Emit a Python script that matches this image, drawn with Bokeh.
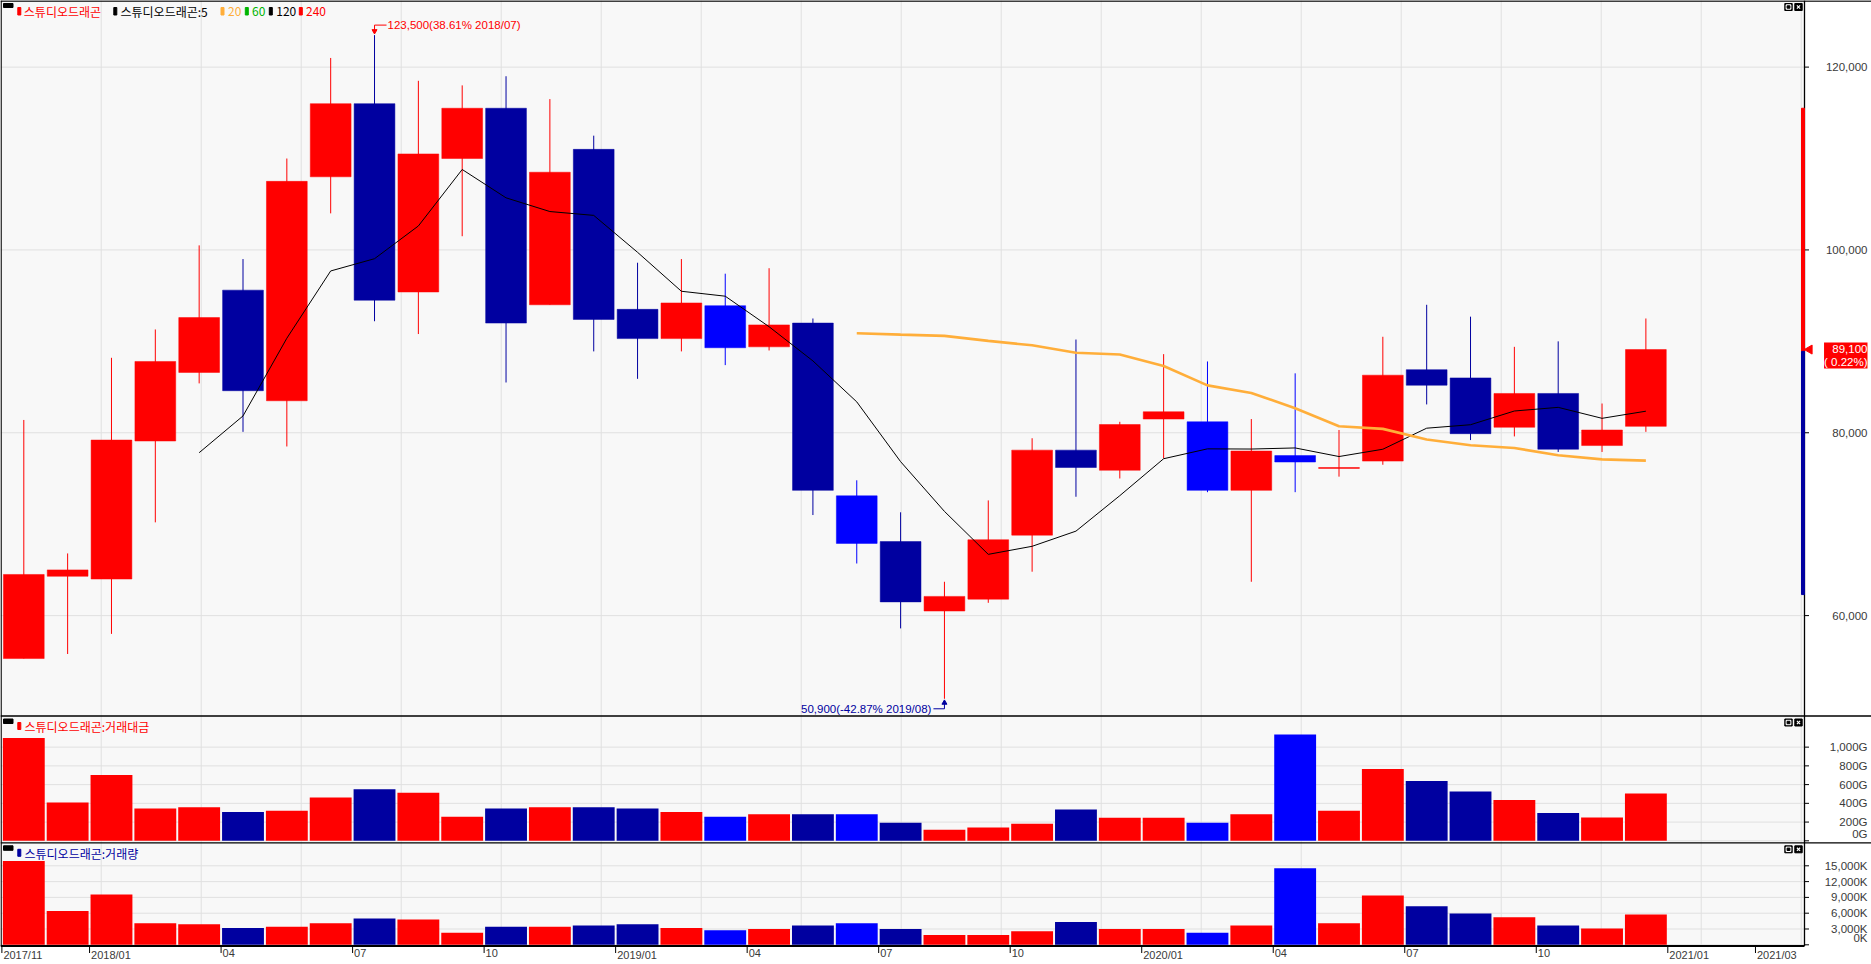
import math
from bokeh.plotting import figure
from bokeh.models import Range1d, Label
from bokeh.embed import file_html
from bokeh.resources import INLINE

# ---------------- data ----------------
months = ["2017/11", "2017/12",
          "2018/01", "2018/02", "2018/03", "2018/04", "2018/05", "2018/06",
          "2018/07", "2018/08", "2018/09", "2018/10", "2018/11", "2018/12",
          "2019/01", "2019/02", "2019/03", "2019/04", "2019/05", "2019/06",
          "2019/07", "2019/08", "2019/09", "2019/10", "2019/11", "2019/12",
          "2020/01", "2020/02", "2020/03", "2020/04", "2020/05", "2020/06",
          "2020/07", "2020/08", "2020/09", "2020/10", "2020/11", "2020/12"]
opens = [55300, 64300, 64000, 79100, 86600, 95600, 83500, 108000, 116000, 95400,
         110000, 115500, 94000, 111000, 93500, 90300, 93900, 89400, 92000, 73100,
         68100, 60500, 61800, 68800, 78100, 75900, 81500, 81200, 73700, 77500,
         76100, 76900, 86900, 86000, 80600, 84300, 78600, 80700]
highs = [81400, 66800, 88200, 91300, 100500, 99000, 110000, 121000, 123500, 118500,
         118000, 119000, 116500, 112500, 98600, 99000, 97400, 98000, 92500, 74800,
         71300, 63700, 72600, 79400, 90200, 81200, 88600, 87800, 81500, 86500,
         80300, 90500, 94000, 92700, 89400, 90000, 83200, 92500]
lows = [55300, 55800, 58000, 70200, 85400, 80100, 78500, 104000, 92200, 90800,
        101500, 85500, 94000, 88900, 85900, 88900, 87400, 89000, 71000, 65700,
        58600, 50900, 61400, 64800, 73000, 75000, 77200, 73500, 63700, 73500,
        75200, 76500, 83100, 79200, 79600, 77900, 77900, 80100]
closes = [64500, 65000, 79200, 87800, 92600, 84600, 107500, 116000, 94500, 110500,
          115500, 92000, 108500, 92400, 90300, 94200, 89300, 91800, 73700, 67900,
          61500, 62100, 68300, 78100, 76200, 80900, 82300, 73700, 78000, 76800,
          76200, 86300, 85200, 79900, 84300, 78200, 80300, 89100]
# 5-month average (black), from 2018/03
ma5 = [77820, 81840, 90340, 97700, 99040, 102620, 108800, 105700, 104200, 103780,
       99740, 95480, 94940, 91600, 87860, 83380, 76840, 71400, 66700, 67580,
       69240, 73120, 77160, 78240, 78220, 78340, 77400, 78200, 80500, 80880,
       82380, 82780, 81580, 82360]
# 20-month average (orange), from 2019/06
ma20 = [90890, 90740, 90595, 90050, 89565, 88745, 88560, 87300, 85185, 84360,
        82675, 80710, 80425, 79260, 78635, 78335, 77535, 77085, 76950]
# trading value (G) and trading volume (K)
trade_value = [1098, 410, 703, 346, 359, 308, 321, 461, 550, 512,
               257, 346, 359, 359, 346, 308, 257, 283, 283, 283,
               194, 117, 143, 181, 334, 245, 245, 194, 283, 1136,
               321, 767, 639, 525, 436, 296, 249, 505]
trade_volume = [15900, 6400, 9550, 4100, 3900, 3200, 3450, 4100, 5000, 4800,
                2300, 3450, 3450, 3650, 3900, 3200, 2750, 3000, 3650, 4100,
                3000, 1850, 1850, 2550, 4350, 3000, 3000, 2300, 3650, 14550,
                4100, 9350, 7300, 5950, 5250, 3650, 3100, 5750]

axis_months = months + ["2021/01", "2021/02", "2021/03"]
x_tick_text = {"2017/11": "2017/11", "2018/01": "2018/01", "2018/04": "04",
               "2018/07": "07", "2018/10": "10", "2019/01": "2019/01",
               "2019/04": "04", "2019/07": "07", "2019/10": "10",
               "2020/01": "2020/01", "2020/04": "04", "2020/07": "07",
               "2020/10": "10", "2021/01": "2021/01", "2021/03": "2021/03"}
price_ticks = [60000, 80000, 100000, 120000]
value_ticks = [0, 200, 400, 600, 800, 1000]
volume_ticks = [0, 3000, 6000, 9000, 12000, 15000]

stock = "스튜디오드래곤"
legend_texts = [stock, stock + ":5", "20", "60", "120", "240"]
panel1_title = stock + ":거래대금"
panel2_title = stock + ":거래량"
high_idx, high_text = 8, "123,500(38.61% 2018/07)"
low_idx, low_text = 21, "50,900(-42.87% 2019/08)"
last_text = "89,100\n( 0.22%)"
prev_close, upper_limit, lower_limit = 88900, 115500, 62300

# ---------------- style / layout (pixel grid 1871 x 964) ----------------
RED, NAVY, BLUE = "#FF0000", "#0000A0", "#0000FF"
ORANGE, GREEN = "#FFAE3A", "#00B400"
BG, GRID = "#F8F8F8", "#E0E0E0"
TXT = "#3A3A3A"
NUMFONT = "Liberation Sans"
KRFONT = "Noto Sans CJK KR"

W, H = 1871, 964
BORDER_X = 1804          # right edge of the plotting area
SEP1, SEP2, AXIS_Y = 715.5, 842.3, 945.5
# scales: index -> px = 23.3 + 43.84*i ; price -> px = 66.6 + (120000-P)/109.39
x_range = Range1d(-23.3 / 43.84, (W - 23.3) / 43.84)
y_main = Range1d(120000 - (H - 66.6) * 109.39, 120000 + 66.6 * 109.39)
val_pp = 0.09367           # px per G
vol_pp = 1 / 189.87        # px per K
y_val = Range1d(-(H - 840.3) / val_pp, 840.3 / val_pp)
y_vol = Range1d(-(H - 944.3) / vol_pp, 944.3 / vol_pp)

p = figure(width=W, height=H, x_range=x_range, y_range=y_main, title=None,
           min_border=0, x_axis_location=None, y_axis_location=None,
           toolbar_location=None, output_backend="svg", outline_line_color=None,
           background_fill_color="white", border_fill_color="white")
p.grid.visible = False
p.extra_x_ranges = {"px": Range1d(0, W)}
p.extra_y_ranges = {"px": Range1d(H, 0), "val": y_val, "vol": y_vol}
PX = dict(x_range_name="px", y_range_name="px")


def candle_color(i):
    if closes[i] >= opens[i]:
        return RED
    if i > 0 and opens[i] < closes[i - 1]:
        return BLUE
    return NAVY


colors = [candle_color(i) for i in range(len(months))]
xs = list(range(len(months)))

# ---- backgrounds & grid ----
p.quad(left=[0], right=[BORDER_X], top=[0], bottom=[AXIS_Y], color=BG, **PX)
vg = [100.7 + 100 * k for k in range(18)]
p.segment(x0=vg, x1=vg, y0=[0] * len(vg), y1=[AXIS_Y] * len(vg), color=GRID, line_width=1, **PX)


def hgrid(ticks, yname):
    p.segment(x0=[0] * len(ticks), x1=[BORDER_X] * len(ticks), y0=ticks, y1=ticks,
              color=GRID, line_width=1, x_range_name="px", y_range_name=yname)
    p.segment(x0=[BORDER_X] * len(ticks), x1=[BORDER_X + 4.5] * len(ticks), y0=ticks, y1=ticks,
              color="black", line_width=1, x_range_name="px", y_range_name=yname)


hgrid(price_ticks, "default")
hgrid(value_ticks, "val")
hgrid(volume_ticks, "vol")

# ---- price candles ----
p.segment(x0=xs, y0=lows, x1=xs, y1=highs, color=colors, line_width=1)
p.vbar(x=xs, width=0.93, top=[max(o, c) for o, c in zip(opens, closes)],
       bottom=[min(o, c) for o, c in zip(opens, closes)],
       fill_color=colors, line_color=colors, line_width=0.5)
p.line(xs[4:], ma5, color="black", line_width=1)
p.line(xs[19:], ma20, color=ORANGE, line_width=2.6)

# ---- volume panels ----
p.vbar(x=xs, width=0.955, top=trade_value, bottom=0, fill_color=colors, line_color=None,
       y_range_name="val")
p.vbar(x=xs, width=0.955, top=trade_volume, bottom=0, fill_color=colors, line_color=None,
       y_range_name="vol")

# ---- frame lines ----
p.segment(x0=[0, 0, 0], x1=[W, W, W], y0=[0.5, SEP1, SEP2], y1=[0.5, SEP1, SEP2],
          color="black", line_width=1.3, **PX)
p.segment(x0=[0.6, BORDER_X], x1=[0.6, BORDER_X], y0=[0, 0], y1=[AXIS_Y, AXIS_Y],
          color="black", line_width=1.3, **PX)
p.segment(x0=[0], x1=[BORDER_X], y0=[AXIS_Y], y1=[AXIS_Y], color="black", line_width=2, **PX)

# ---- price limit bar and last price marker ----
p.quad(left=[BORDER_X - 3] * 2, right=[BORDER_X] * 2, bottom=[prev_close, lower_limit],
       top=[upper_limit, prev_close], color=[RED, NAVY], x_range_name="px")
p.scatter(x=[BORDER_X + 5], y=[closes[-1]], marker="triangle", angle=math.pi / 2, size=9,
          color=RED, x_range_name="px")
p.add_layout(Label(x=1867, y=closes[-1], text=last_text, text_align="right",
                   text_baseline="top", y_offset=7, text_color="white",
                   background_fill_color=RED, text_font=NUMFONT,
                   text_font_size="11.5px", text_line_height=1.15, x_range_name="px"))


def ylab(v, text, yname, baseline="middle", yoff=0):
    p.add_layout(Label(x=1867, y=v, text=text, text_align="right", text_baseline=baseline,
                       y_offset=yoff, text_font=NUMFONT, text_font_size="11.5px",
                       text_color=TXT, x_range_name="px", y_range_name=yname))


for v in price_ticks:
    ylab(v, f"{v:,}", "default")
for v in value_ticks:
    ylab(v, f"{v:,}G", "val", *(("bottom", 1) if v == 0 else ("middle", 0)))
for v in volume_ticks:
    ylab(v, f"{v:,}K", "vol", *(("bottom", 1) if v == 0 else ("middle", 0)))

# ---- high / low notes ----
PPX, PPY = 43.84, 1 / 109.39
hx, hy = xs[high_idx], highs[high_idx]
p.line([hx, hx, hx + 12 / PPX], [hy + 2 / PPY, hy + 10 / PPY, hy + 10 / PPY], color=RED, line_width=1)
p.scatter([hx], [hy + 4 / PPY], marker="inverted_triangle", size=5, color=RED)
p.add_layout(Label(x=hx, y=hy, x_offset=13, y_offset=10, text=high_text,
                   text_color=RED, text_font=NUMFONT, text_font_size="11.5px",
                   text_baseline="middle"))
lx, ly = xs[low_idx], lows[low_idx]
p.line([lx, lx, lx - 11 / PPX], [ly - 2 / PPY, ly - 10 / PPY, ly - 10 / PPY], color=NAVY, line_width=1)
p.scatter([lx], [ly - 4 / PPY], marker="triangle", size=5, color=NAVY)
p.add_layout(Label(x=lx, y=ly, x_offset=-13, y_offset=-10, text=low_text,
                   text_color=NAVY, text_font=NUMFONT, text_font_size="11.5px",
                   text_baseline="middle", text_align="right"))

# ---- legend / panel titles ----
p.quad(left=[3], right=[12.5], top=[3], bottom=[7], color="black", **PX)
leg_marker_x = [17.3, 113.3, 220.5, 244.8, 268.8, 298.8]
leg_text_x = [23.3, 120, 227.5, 251.5, 275.8, 305.5]
leg_colors = [RED, "black", ORANGE, GREEN, "black", RED]
p.quad(left=leg_marker_x, right=[v + 3 for v in leg_marker_x], top=[7] * 6, bottom=[14.5] * 6,
       color=leg_colors, **PX)
for t, xpx, c in zip(legend_texts, leg_text_x, leg_colors):
    p.add_layout(Label(x=xpx, y=10.8, text=t, text_color=c, text_font=KRFONT,
                       text_font_size="12px", text_baseline="middle", **PX))

for top, ttl, c in [(SEP1, panel1_title, RED), (SEP2, panel2_title, NAVY)]:
    p.quad(left=[3], right=[12.5], top=[top + 3], bottom=[top + 7.5], color="black", **PX)
    p.quad(left=[17.3], right=[20.3], top=[top + 6.5], bottom=[top + 13.5], color=c, **PX)
    p.add_layout(Label(x=24, y=top + 10.2, text=ttl, text_color=c, text_font=KRFONT,
                       text_font_size="12px", text_baseline="middle", **PX))

# ---- panel icons ----
for top in [0, SEP1, SEP2]:
    p.quad(left=[1784.3, 1794.3], right=[1791.7, 1801.7], top=[top + 3] * 2,
           bottom=[top + 10] * 2, color="black", **PX)
    p.quad(left=[1785.6], right=[1790.4], top=[top + 4.3], bottom=[top + 8.7], color="white", **PX)
    p.quad(left=[1786.6], right=[1789.4], top=[top + 5.3], bottom=[top + 7.7], color="black", **PX)
    p.scatter(x=[1798], y=[top + 6.5], marker="x", size=4.5, line_color="white",
              line_width=1.2, **PX)

# ---- time axis ----
tick_pos = [axis_months.index(m) - 0.5 for m in x_tick_text]
p.segment(x0=tick_pos, x1=tick_pos, y0=[AXIS_Y] * len(tick_pos), y1=[AXIS_Y + 7] * len(tick_pos),
          color="black", line_width=1, y_range_name="px")
for m, t in x_tick_text.items():
    p.add_layout(Label(x=axis_months.index(m) - 0.5, y=AXIS_Y + 2.5, x_offset=1.5,
                       text=t, text_font=NUMFONT, text_font_size="11px",
                       text_color=TXT, text_baseline="top", text_align="left",
                       y_range_name="px"))

open("out.html", "w").write(file_html(p, INLINE))
